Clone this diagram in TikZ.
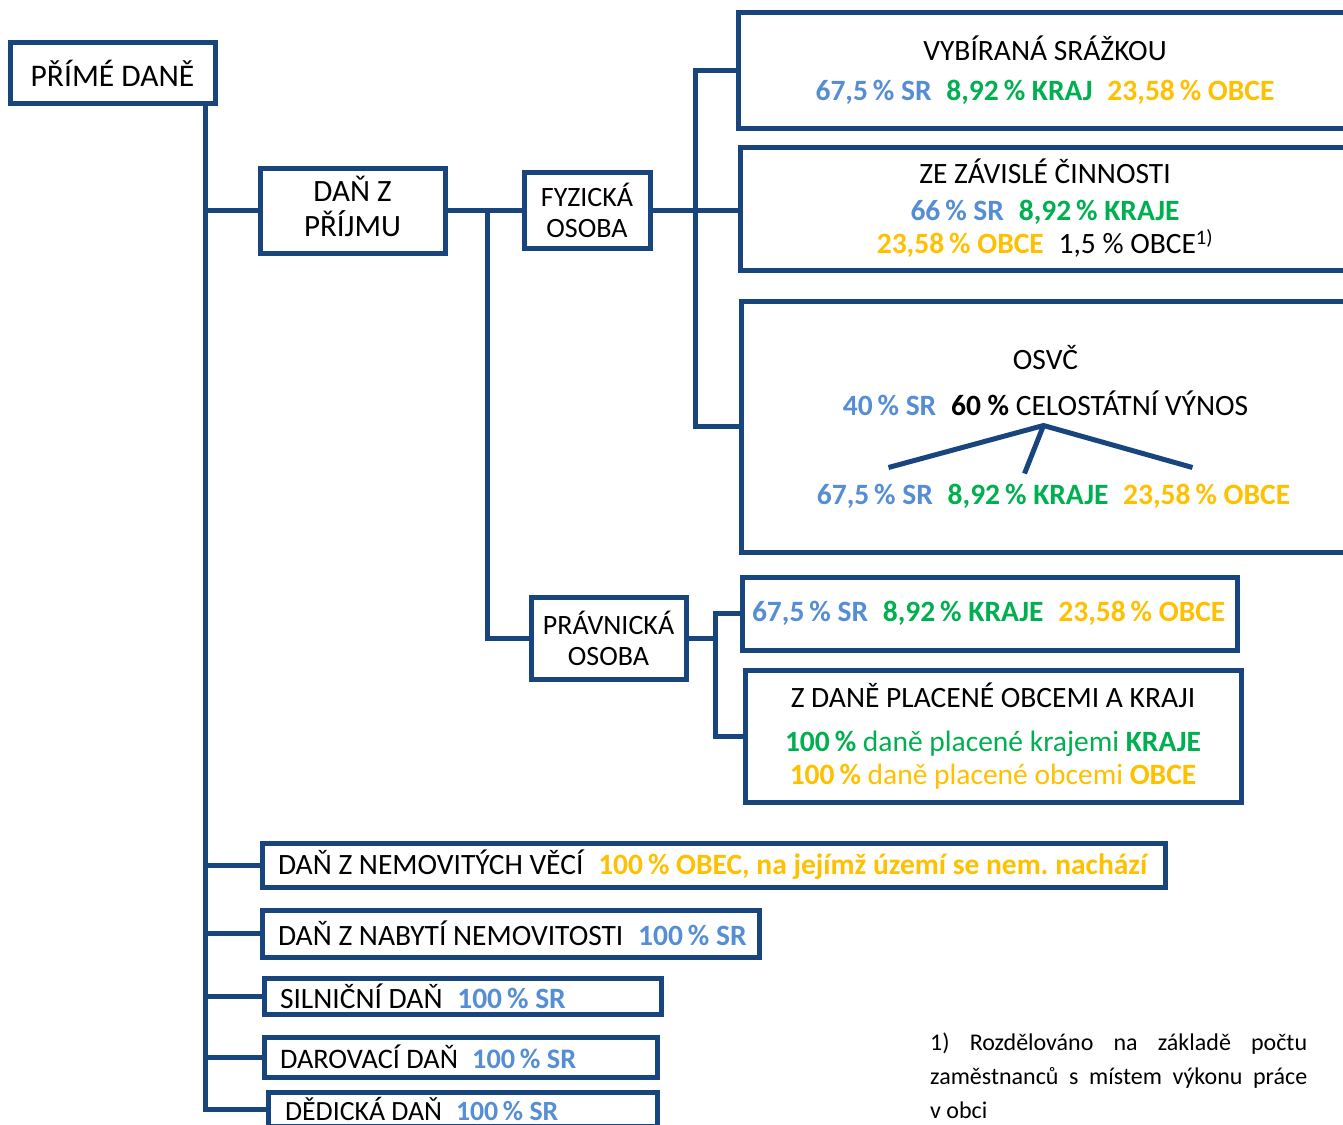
\documentclass[tikz,border=0pt]{standalone}
\usepackage{fontspec}
\setmainfont{Carlito}
\usepackage{tikz}
\usetikzlibrary{calc}
\definecolor{navy}{RGB}{24,69,125}
\definecolor{srblue}{RGB}{85,142,213}
\definecolor{krgreen}{RGB}{0,176,80}
\definecolor{obgold}{RGB}{255,192,0}
\def\podSR#1{\textcolor{srblue}{\textbf{#1}}}% share of the state (SR)
\def\podKR#1{\textcolor{krgreen}{\textbf{#1}}}% share of the regions (KRAJE)
\def\podOB#1{\textcolor{obgold}{\textbf{#1}}}% share of the municipalities (OBCE)
\frenchspacing
\begin{document}
\begin{tikzpicture}[x=1pt,y=-1pt,
	box/.style={draw=navy,line width=5pt,fill=white,inner sep=0pt,align=center,font=\fontsize{29.5}{35}\selectfont},
	row/.style={box,align=flush left},
	conn/.style={navy,line width=5pt}]
	\useasboundingbox (0,0) rectangle (1343,1124);

	%boxes, left column
	\node[box,minimum width=205,minimum height=60,font=\fontsize{31.5}{36}\selectfont] (prime) at (112.5,73) {PŘÍMÉ DANĚ};
	\node[box,minimum width=185,minimum height=85,font=\fontsize{31}{36}\selectfont] (prijem) at (352.5,210.5) {DAŇ Z\\[-1pt]PŘÍJMU\rule[-8pt]{0pt}{8pt}};
	\node[box,minimum width=126,minimum height=76,font=\fontsize{28}{31}\selectfont] (fyz) at (587,210.5) {FYZICKÁ\\OSOBA};
	\node[box,minimum width=155,minimum height=82,font=\fontsize{28}{31}\selectfont] (prav) at (608.5,638) {PRÁVNICKÁ\\OSOBA};

	%fyzicka osoba
	\node[box,minimum width=614,minimum height=115] (srazka) at (1045,70.5) {VYBÍRANÁ SRÁŽKOU\\[5pt]\podSR{67,5\,\% SR}\enspace\podKR{8,92\,\% KRAJ}\enspace\podOB{23,58\,\% OBCE}};
	\node[box,minimum width=610,minimum height=123] (zavisle) at (1045,208.5) {ZE ZÁVISLÉ ČINNOSTI\\[2pt]\podSR{66\,\% SR}\enspace\podKR{8,92\,\% KRAJE}\\[-2pt]\podOB{23,58\,\% OBCE}\enspace 1,5 \% OBCE\textsuperscript{1)}};
	\node[box,minimum width=609,minimum height=251] (osvc) at (1045.5,426.5) {OSVČ\\[11pt]\podSR{40\,\% SR}\enspace\textbf{60 \%} CELOSTÁTNÍ VÝNOS\\[54pt]\hspace*{16pt}\podSR{67,5\,\% SR}\enspace\podKR{8,92\,\% KRAJE}\enspace\podOB{23,58\,\% OBCE}};

	%pravnicka osoba
	\node[row,minimum width=495,minimum height=73,text width=475] (pravsaz) at (989.5,613.5) {\podSR{67,5\,\% SR}\enspace\podKR{8,92\,\% KRAJE}\enspace\podOB{23,58\,\% OBCE}};
	\node[box,minimum width=496,minimum height=132] (pravobce) at (993,736) {Z DANĚ PLACENÉ OBCEMI A KRAJI\\[9pt]\textcolor{krgreen}{\textbf{100\,\%} daně placené krajemi \textbf{KRAJE}}\\[-2pt]\textcolor{obgold}{\textbf{100\,\%} daně placené obcemi \textbf{OBCE}}};

	%other taxes
	\node[row,minimum width=903,minimum height=44,text width=871] (nemov) at (713.5,865) {DAŇ Z NEMOVITÝCH VĚCÍ\enspace\podOB{100\,\% OBEC, na jejímž území se nem. nachází}};
	\node[row,minimum width=497,minimum height=47,text width=465] (nabyti) at (510.5,933.5) {\mbox{DAŇ Z NABYTÍ NEMOVITOSTI\enspace\podSR{100\,\% SR}}};
	\node[row,minimum width=397,minimum height=36,text width=365] (silnic) at (462.5,996) {SILNIČNÍ DAŇ\enspace\podSR{100\,\% SR}};
	\node[row,minimum width=393,minimum height=40,text width=361,font=\fontsize{28.3}{34}\selectfont] (darov) at (460.5,1057) {DAROVACÍ DAŇ\enspace\podSR{100\,\% SR}};
	\node[row,minimum width=389,minimum height=34,text width=355,font=\fontsize{27.8}{33}\selectfont] (dedic) at (462.5,1109) {DĚDICKÁ DAŇ\enspace\podSR{100\,\% SR}};

	%connectors
	\coordinate (kmen) at (205,0);
	\coordinate (osoby) at (487,0);
	\coordinate (fyzbus) at (695,0);
	\coordinate (pravbus) at (715,0);
	\draw[conn] (kmen |- prime.south) |- (dedic.west);
	\foreach \n in {prijem,nemov,nabyti,silnic,darov}
		\draw[conn] (kmen |- prime.south) |- (\n.west);
	\draw[conn] (prijem.east) -- (fyz.west);
	\draw[conn] (osoby |- prijem.east) |- (prav.west);
	\draw[conn] (fyz.east) -- (fyz.east -| zavisle.west);
	\draw[conn] (srazka.west) -| (fyzbus |- osvc.west) -- (osvc.west);
	\draw[conn] (prav.east) -- (prav.east -| pravbus);
	\draw[conn] (pravsaz.west) -| (pravbus |- pravobce.west) -- (pravobce.west);

	%split of the 60 %
	\coordinate (rozpad) at ($(osvc.center)+(-2,-1)$);
	\draw[conn] ($(osvc.center)+(-157,41)$) -- (rozpad) -- ($(osvc.center)+(147,41)$);
	\draw[conn] (rozpad) -- ($(osvc.center)+(-21,47)$);

	%footnote
	\node[anchor=north west,text width=377,align=justify,inner sep=0pt,font=\fontsize{24}{34}\selectfont] (pozn) at (930,1033) {1)~Rozdělováno na základě počtu\linebreak zaměstnanců s~místem výkonu práce\linebreak v~obci};
\end{tikzpicture}
\end{document}
